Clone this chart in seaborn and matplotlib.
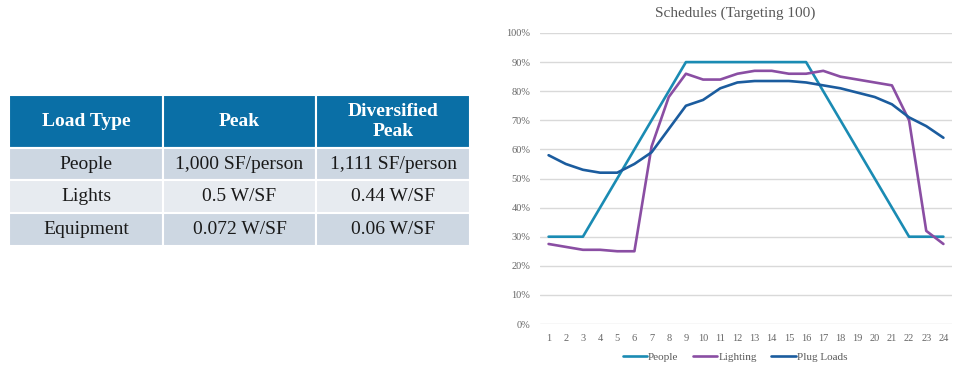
import matplotlib.pyplot as plt
import seaborn as sns
import pandas as pd
import numpy as np

# schedule data (fraction of peak)
hours = list(range(1, 25))
people = [0.30, 0.30, 0.30, 0.40, 0.50, 0.60, 0.70, 0.80, 0.90, 0.90, 0.90, 0.90,
          0.90, 0.90, 0.90, 0.90, 0.80, 0.70, 0.60, 0.50, 0.40, 0.30, 0.30, 0.30]
lighting = [0.275, 0.265, 0.255, 0.255, 0.25, 0.25, 0.61, 0.78, 0.86, 0.84, 0.84, 0.86,
            0.87, 0.87, 0.86, 0.86, 0.87, 0.85, 0.84, 0.83, 0.82, 0.70, 0.32, 0.275]
plug_loads = [0.58, 0.55, 0.53, 0.52, 0.52, 0.55, 0.59, 0.67, 0.75, 0.77, 0.81, 0.83,
              0.835, 0.835, 0.835, 0.83, 0.82, 0.81, 0.795, 0.78, 0.755, 0.71, 0.68, 0.64]
series_names = ["People", "Lighting", "Plug Loads"]
series_colors = ["#1a8bb3", "#8a4ea3", "#1b5c9e"]

# table contents
table_header = ["Load Type", "Peak", "Diversified\nPeak"]
table_rows = [
    ["People", "1,000 SF/person", "1,111 SF/person"],
    ["Lights", "0.5 W/SF", "0.44 W/SF"],
    ["Equipment", "0.072 W/SF", "0.06 W/SF"],
]

df = pd.DataFrame({
    "Hour": hours * 3,
    "Value": people + lighting + plug_loads,
    "Series": np.repeat(series_names, len(hours)),
})

sns.set_style("white")
plt.rcParams['font.family'] = ['Liberation Serif', 'DejaVu Serif']

fig = plt.figure(figsize=(9.74, 3.81), dpi=100)

# --- table ---
tax = fig.add_axes([9 / 974, 1 - 246 / 381, 461 / 974, 151 / 381])
tax.axis("off")
tbl = tax.table(cellText=table_rows, colLabels=table_header,
                cellLoc="center", colWidths=[154, 153, 154], bbox=[0, 0, 1, 1])
tbl.auto_set_font_size(False)
row_fill = ["#cdd7e2", "#e7ebf0", "#cdd7e2"]
for (r, c), cell in tbl.get_celld().items():
    cell.set_edgecolor("white")
    cell.set_linewidth(1.5)
    if r == 0:
        cell.set_height(53)
        cell.set_facecolor("#0a6fa6")
        cell.get_text().set_color("white")
        cell.get_text().set_fontweight("bold")
        cell.get_text().set_fontsize(14)
        cell.get_text().set_linespacing(1.2)
    else:
        cell.set_height(33)
        cell.set_facecolor(row_fill[r - 1])
        cell.get_text().set_color("#1a1a1a")
        cell.get_text().set_fontsize(14)

# --- chart ---
ax = fig.add_axes([540 / 974, 1 - 324 / 381, 412 / 974, 291 / 381])
sns.lineplot(data=df, x="Hour", y="Value", hue="Series", hue_order=series_names,
             palette=series_colors, linewidth=1.9, ax=ax, legend=True)

ax.set_xlim(0.5, 24.5)
ax.set_ylim(0, 1.0)
ax.set_xticks(hours)
ax.set_yticks(np.arange(0, 1.01, 0.1))
ax.set_yticklabels([f"{int(round(v * 100))}%" for v in np.arange(0, 1.01, 0.1)])
ax.tick_params(axis="both", labelsize=7.5, colors="#666666", length=0)
ax.tick_params(axis="y", pad=7)
ax.tick_params(axis="x", pad=7)
ax.grid(axis="y", color="#d9d9d9", linewidth=1)
ax.set_axisbelow(True)
for s in ax.spines.values():
    s.set_visible(False)
ax.set_xlabel("")
ax.set_ylabel("")

fig.text(735 / 974, 1 - 13 / 381, "Schedules (Targeting 100)", ha="center", va="center",
         fontsize=11, color="#595959")

sns.move_legend(ax, "center", bbox_to_anchor=(735 / 974, 1 - 357 / 381),
                bbox_transform=fig.transFigure, ncol=3, frameon=False, title=None,
                fontsize=8, handlelength=2.2, handletextpad=0.1, columnspacing=1.3)
for t in ax.get_legend().get_texts():
    t.set_color("#595959")

fig.savefig("out.png", dpi=100)
